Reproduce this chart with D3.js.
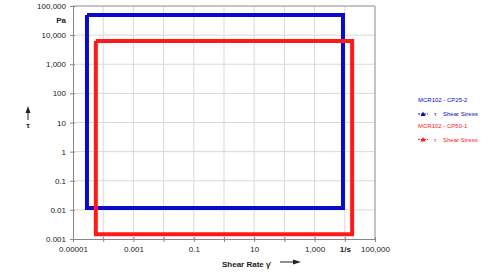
<!DOCTYPE html>
<html>
<head>
<meta charset="utf-8">
<script src="https://cdn.jsdelivr.net/npm/d3@7"></script>
<style>
  body { margin: 0; background: #fff; }
  text { font-family: "Liberation Sans", Arial, sans-serif; }
</style>
</head>
<body>
<div id="chart"></div>
<script>
// corner points of each measured curve (shear rate in 1/s, shear stress in Pa)
const seriesNames = ["MCR102 - CP25-2", "MCR102 - CP50-1"];
const blueRate   = [2.9e-5, 8700, 8700, 2.9e-5, 2.9e-5];
const blueStress = [49000, 49000, 0.0115, 0.0115, 49000];
const redRate    = [5.7e-5, 17500, 17500, 5.7e-5, 5.7e-5];
const redStress  = [6300, 6300, 0.00145, 0.00145, 6300];
const xTicks = [1e-5, 1e-4, 1e-3, 1e-2, 1e-1, 1, 10, 100, 1000, 1e4, 1e5];
const xLabels = ["0.00001", "", "0.001", "", "0.1", "", "10", "", "1,000", "1/s", "100,000"];
const yTicks = [1e-3, 1e-2, 1e-1, 1, 10, 100, 1000, 1e4, 1e5];
const yLabels = ["0.001", "0.01", "0.1", "1", "10", "100", "1,000", "10,000", "100,000"];
const colors = ["#0a0acc", "#ff1a1a"];

const svgWidth = 500, svgHeight = 272;
const margin = {top: 6, left: 73, right: 125, bottom: 33};
const width = svgWidth - margin.left - margin.right;
const height = svgHeight - margin.top - margin.bottom;

const x = d3.scaleLog().domain([1e-5, 1e5]).range([0, width]);
const y = d3.scaleLog().domain([1e-3, 1e5]).range([height, 0]);

let svg = d3.select("#chart").append("svg")
    .attr("width", svgWidth)
    .attr("height", svgHeight);

let g = svg.append("g")
    .attr("transform", "translate(" + margin.left + "," + margin.top + ")");

// grid
g.selectAll(".vgrid").data(xTicks.slice(1, -1)).enter().append("line")
    .attr("x1", d => x(d)).attr("x2", d => x(d))
    .attr("y1", 0).attr("y2", height)
    .attr("stroke", "#d9d9d9").attr("stroke-width", 1);
g.selectAll(".hgrid").data(yTicks.slice(1, -1)).enter().append("line")
    .attr("y1", d => y(d)).attr("y2", d => y(d))
    .attr("x1", 0).attr("x2", width)
    .attr("stroke", "#d9d9d9").attr("stroke-width", 1);

// frame
g.append("line").attr("x1", 0).attr("x2", width).attr("y1", 0).attr("y2", 0)
    .attr("stroke", "#b0b0b0").attr("stroke-width", 1.5);
g.append("line").attr("x1", width).attr("x2", width).attr("y1", 0).attr("y2", height)
    .attr("stroke", "#b0b0b0").attr("stroke-width", 1.5);

// axes
let xAxis = d3.axisBottom(x).tickValues(xTicks)
    .tickFormat((d, i) => xLabels[i]).tickSize(3).tickPadding(4);
let yAxis = d3.axisLeft(y).tickValues(yTicks)
    .tickFormat((d, i) => yLabels[i]).tickSize(3).tickPadding(4);

g.append("g")
    .attr("transform", "translate(0," + height + ")")
    .call(xAxis)
    .call(a => a.select(".domain").attr("stroke", "#888"))
    .call(a => a.selectAll(".tick line").attr("stroke", "#888").attr("y1", -2))
    .call(a => a.selectAll(".tick text").attr("fill", "#222").style("font-size", "8px")
        .style("font-weight", (d, i) => xLabels[i] == "1/s" ? "bold" : "normal"));

g.append("g")
    .call(yAxis)
    .call(a => a.select(".domain").attr("stroke", "#888"))
    .call(a => a.selectAll(".tick line").attr("stroke", "#888").attr("x1", 2))
    .call(a => a.selectAll(".tick text").attr("fill", "#222").style("font-size", "8px"));

// unit label between the top two y ticks
g.append("text")
    .attr("x", -7).attr("y", y(Math.sqrt(1e4 * 1e5))).attr("dy", "0.32em")
    .attr("text-anchor", "end")
    .style("font-size", "8px").style("font-weight", "bold").attr("fill", "#222")
    .text("Pa");

// curves
const line = d3.line().x(d => x(d[0])).y(d => y(d[1]));
const curves = [d3.zip(blueRate, blueStress), d3.zip(redRate, redStress)];
g.selectAll(".curve").data(curves).enter().append("path")
    .attr("class", "curve")
    .attr("d", line)
    .attr("fill", "none")
    .attr("stroke", (d, i) => colors[i])
    .attr("stroke-width", 4)
    .attr("stroke-linejoin", "miter");

// axis titles
svg.append("text").attr("x", 222).attr("y", 267)
    .style("font-size", "8px").style("font-weight", "bold").attr("fill", "#222")
    .text("Shear Rate γ̇");
svg.append("line").attr("x1", 280).attr("x2", 294).attr("y1", 262).attr("y2", 262)
    .attr("stroke", "#222").attr("stroke-width", 1);
svg.append("path").attr("d", "M293,259.5 L301,262 L293,264.5 Z").attr("fill", "#222");

svg.append("line").attr("x1", 28).attr("x2", 28).attr("y1", 120).attr("y2", 112)
    .attr("stroke", "#222").attr("stroke-width", 1);
svg.append("path").attr("d", "M25.5,113 L28,106 L30.5,113 Z").attr("fill", "#222");
svg.append("text").attr("x", 28).attr("y", 128).attr("text-anchor", "middle")
    .style("font-size", "8px").style("font-weight", "bold").attr("fill", "#222")
    .text("τ");

// legend
let legend = svg.selectAll(".legend").data(seriesNames).enter().append("g")
    .attr("transform", (d, i) => "translate(418," + (102 + i * 25.5) + ")");
legend.append("text").attr("x", 0).attr("y", 0)
    .style("font-size", "6px").attr("fill", (d, i) => colors[i])
    .text(d => d);
legend.append("line").attr("x1", 0).attr("x2", 10).attr("y1", 12).attr("y2", 12)
    .attr("stroke", (d, i) => colors[i]).attr("stroke-width", 1)
    .attr("stroke-dasharray", "2,1");
legend.append("path").attr("d", "M2.5,14 L5,9.5 L7.5,14 Z")
    .attr("fill", (d, i) => colors[i]);
legend.append("text").attr("x", 16).attr("y", 14)
    .style("font-size", "6px").attr("fill", (d, i) => colors[i])
    .text("τ");
legend.append("text").attr("x", 25).attr("y", 14)
    .style("font-size", "6px").attr("fill", (d, i) => colors[i])
    .text("Shear Stress");
</script>
</body>
</html>
